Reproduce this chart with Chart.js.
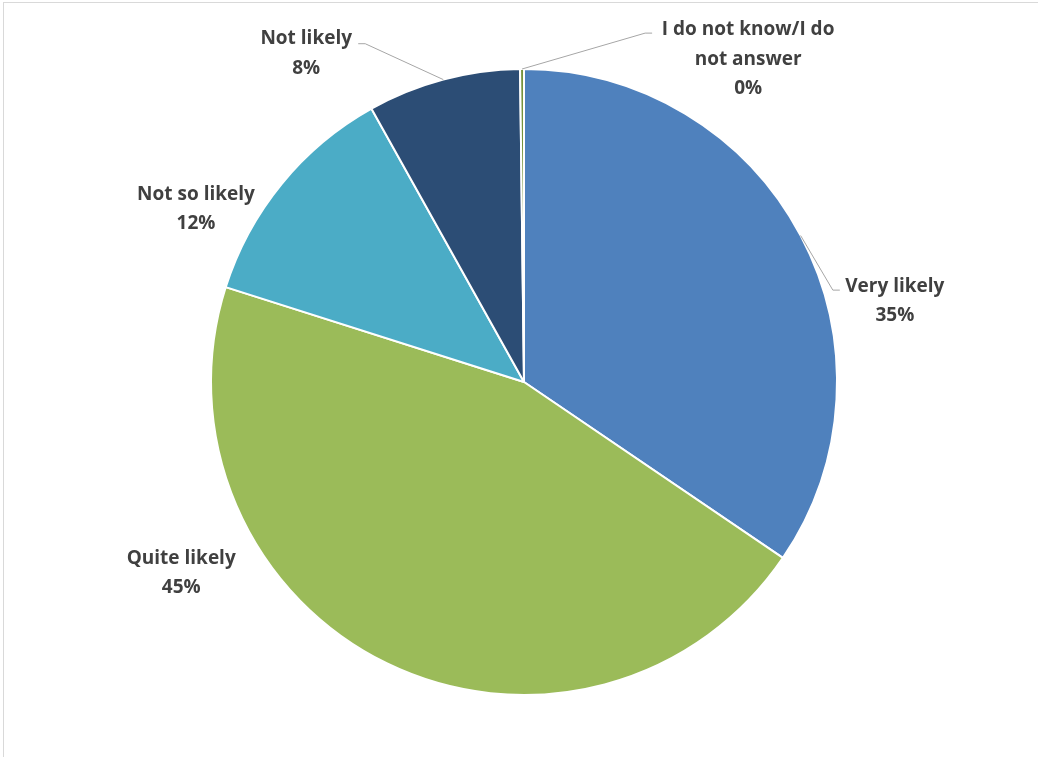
<!DOCTYPE html>
<html>
<head>
<meta charset="utf-8">
<script src="https://cdn.jsdelivr.net/npm/chart.js@4.4.1/dist/chart.umd.min.js"></script>
<style>
    html, body { margin: 0; padding: 0; background: #ffffff; overflow: hidden; }
    #frame { position: absolute; left: 3px; top: 2px; width: 2000px; height: 2000px; border: 1px solid #d9d9d9; }
    #wrap { position: absolute; left: 0; top: 0; width: 1038px; height: 757px; }
</style>
</head>
<body>
<div id="frame"></div>
<div id="wrap"><canvas id="grafico"></canvas></div>
<script>
const categorias = ['Very likely', 'Quite likely', 'Not so likely', 'Not likely', 'I do not know/I do not answer']
const valores = [34.5, 45.4, 12.0, 7.9, 0.2]
const cores = ['#4F81BD', '#9BBB59', '#4BACC6', '#2C4D75', '#77933C']

// where each label sits: angle from 12 o'clock (deg) and distance in radii
const posRotulos = [
    { ang: 77.4, dist: 1.214 },
    { ang: 241.1, dist: 1.251 },
    { ang: 298.1, dist: 1.188 },
    { ang: 326.6, dist: 1.264 },
    { ang: 34.6, dist: 1.261 }
]
// leader lines: elbow and end relative to the label centre, null = no line
const guias = [
    { cotovelo: [-62, -9], fim: [-55, -9] },
    null,
    null,
    { cotovelo: [59, -8], fim: [52, -8] },
    { cotovelo: [-103, -24], fim: [-96, -24] }
]

function quebraTexto(ctx, texto, largura) {
    let palavras = texto.split(' ')
    let linhas = []
    let atual = ''
    palavras.forEach((p) => {
        let teste = atual ? atual + ' ' + p : p
        if (ctx.measureText(teste).width > largura && atual) {
            linhas.push(atual)
            atual = p
        } else {
            atual = teste
        }
    })
    linhas.push(atual)
    return linhas
}

const rotulos = {
    id: 'rotulos',
    afterDatasetsDraw(chart) {
        let ctx = chart.ctx
        let meta = chart.getDatasetMeta(0)
        let total = valores.reduce((a, b) => a + b, 0)
        ctx.save()
        ctx.font = 'bold 19px "Open Sans"'
        ctx.fillStyle = '#404040'
        ctx.textAlign = 'center'
        ctx.textBaseline = 'middle'
        meta.data.forEach((arco, i) => {
            let r = arco.outerRadius
            let a = (posRotulos[i].ang - 90) * Math.PI / 180
            let cx = arco.x + Math.cos(a) * r * posRotulos[i].dist
            let cy = arco.y + Math.sin(a) * r * posRotulos[i].dist
            let linhas = quebraTexto(ctx, categorias[i], 200)
            linhas.push(Math.round(valores[i] / total * 100) + '%')
            let alt = 29.5
            let y0 = cy - (linhas.length - 1) * alt / 2 + 2
            linhas.forEach((l, k) => ctx.fillText(l, cx, y0 + k * alt))

            let g = guias[i]
            if (g) {
                let meio = (arco.startAngle + arco.endAngle) / 2
                ctx.beginPath()
                ctx.strokeStyle = '#a6a6a6'
                ctx.lineWidth = 1
                ctx.moveTo(arco.x + Math.cos(meio) * r, arco.y + Math.sin(meio) * r)
                ctx.lineTo(cx + g.cotovelo[0], cy + g.cotovelo[1])
                ctx.lineTo(cx + g.fim[0], cy + g.fim[1])
                ctx.stroke()
            }
        })
        ctx.restore()
    }
}

new Chart(document.getElementById('grafico'), {
    type: 'pie',
    data: {
        labels: categorias,
        datasets: [{
            data: valores,
            backgroundColor: cores,
            borderColor: '#ffffff',
            borderWidth: 2
        }]
    },
    options: {
        responsive: true,
        maintainAspectRatio: false,
        animation: false,
        layout: { padding: { top: 68, bottom: 61, left: 10, right: 0 } },
        plugins: {
            legend: { display: false },
            tooltip: { enabled: false }
        }
    },
    plugins: [rotulos]
})
</script>
</body>
</html>
